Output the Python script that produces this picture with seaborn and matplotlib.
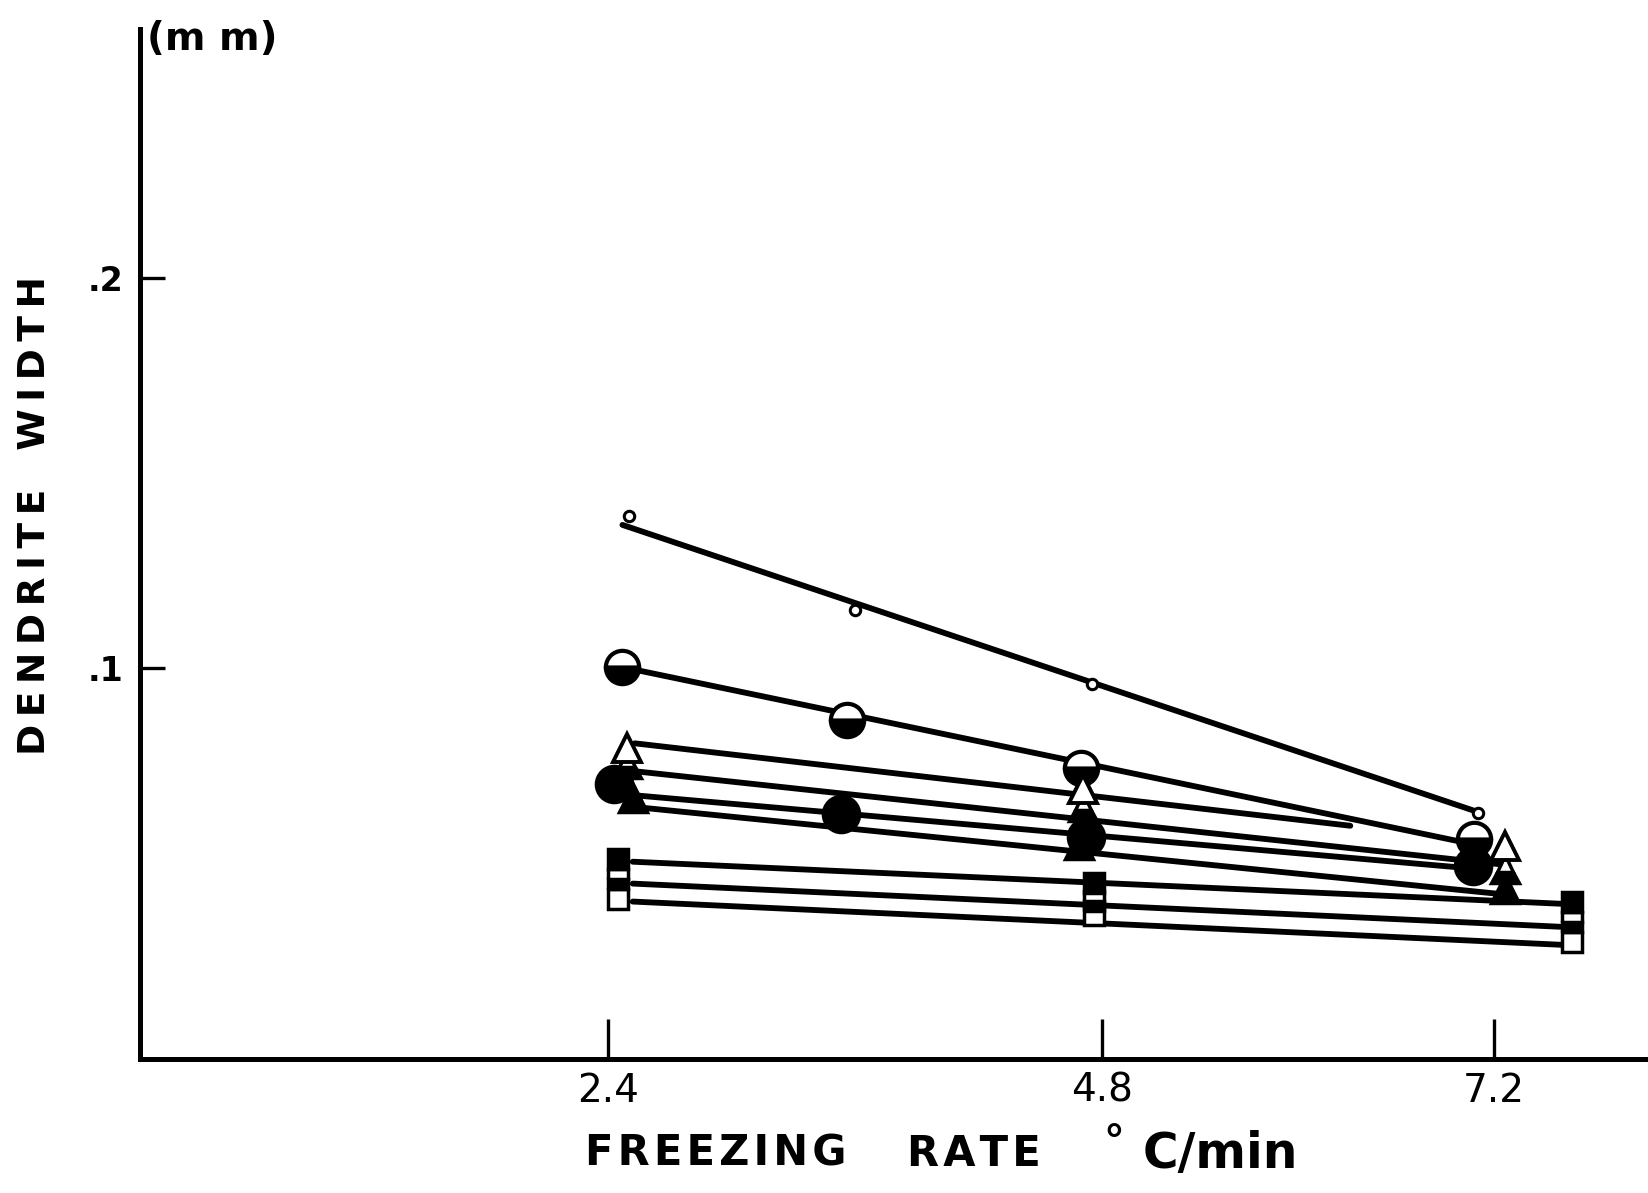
import numpy as np
import pandas as pd
import matplotlib
matplotlib.use("Agg")
import matplotlib.pyplot as plt
import seaborn as sns

# freezing rate (deg C/min) and dendrite width (mm)
# small open circles
a_x = [2.5, 3.6, 4.75, 7.1]
a_y = [0.139, 0.115, 0.096, 0.063]
a_fit_x = [2.47, 7.11]
a_fit_y = [0.1367, 0.0631]
# half filled circles
b_x = [2.47, 3.56, 4.70, 7.08]
b_y = [0.1003, 0.0867, 0.0744, 0.0564]
b_fit_x = [2.47, 7.08]
b_fit_y = [0.1003, 0.0549]
# filled circles
d_x = [2.43, 3.53, 4.72, 7.07]
d_y = [0.0705, 0.0628, 0.0567, 0.0495]
d_fit_x = [2.55, 7.0]
d_fit_y = [0.0674, 0.0490]
# open triangles
t1_x = [2.49, 4.71, 7.27]
t1_y = [0.0795, 0.0690, 0.0544]
t1_fit_x = [2.53, 6.32]
t1_fit_y = [0.0808, 0.0597]
# half filled triangles
t2_x = [2.49, 4.71, 7.27]
t2_y = [0.0754, 0.0646, 0.0487]
t2_fit_x = [2.54, 7.27]
t2_fit_y = [0.0736, 0.0497]
# filled triangles
t3_x = [2.52, 4.69, 7.27]
t3_y = [0.0667, 0.0549, 0.0436]
t3_fit_x = [2.55, 7.27]
t3_fit_y = [0.0644, 0.0421]
# squares: filled, half, open
sq_x = [2.45, 4.76, 7.68]
s1_y = [0.0513, 0.0451, 0.0403]
s2_y = [0.0462, 0.0405, 0.0351]
s3_y = [0.0410, 0.0369, 0.0300]
sq_fit_x = [2.52, 7.63]
s1_fit_y = [0.0505, 0.0397]
s2_fit_y = [0.0449, 0.0338]
s3_fit_y = [0.0403, 0.0292]

xticks = [2.4, 4.8, 7.2]
xticklabels = ["2.4", "4.8", "7.2"]
yticks = [0.1, 0.2]
yticklabels = [".1", ".2"]

sns.set_style("white")
plt.rcParams['font.family'] = ['DejaVu Sans']
plt.rcParams['text.color'] = 'black'
plt.rcParams['xtick.color'] = 'black'
plt.rcParams['ytick.color'] = 'black'

fig = plt.figure(figsize=(16.49, 11.93), dpi=100)
ax = fig.add_axes([0.0849, 0.1123, 0.9151, 0.8630])


# the hand drawn x axis is not evenly spaced (2.4-4.8 longer than 4.8-7.2)
def fwd(x):
    x = np.asarray(x, float)
    return np.where(x < 4.8, 608 + (x - 2.4) * 205.8, 1102 + (x - 4.8) * 163.3)


def inv(u):
    u = np.asarray(u, float)
    return np.where(u < 1102, 2.4 + (u - 608) / 205.8, 4.8 + (u - 1102) / 163.3)


ax.set_xscale('function', functions=(fwd, inv))

fits = pd.DataFrame({
    'x': a_fit_x + b_fit_x + d_fit_x + t1_fit_x + t2_fit_x + t3_fit_x + sq_fit_x * 3,
    'y': a_fit_y + b_fit_y + d_fit_y + t1_fit_y + t2_fit_y + t3_fit_y + s1_fit_y + s2_fit_y + s3_fit_y,
    'grp': sum([[g] * 2 for g in ['a', 'b', 'd', 't1', 't2', 't3', 's1', 's2', 's3']], []),
})
sns.lineplot(data=fits, x='x', y='y', units='grp', estimator=None, color='black',
             linewidth=4.2, ax=ax, zorder=2)

k = dict(linestyle='none', color='black', mec='black', zorder=3)
ax.plot(a_x, a_y, marker='o', ms=7.5, mew=2.2, mfc='white', **k)
ax.plot(d_x, d_y, marker='o', ms=27, mew=1.5, mfc='black', **k)
ax.plot(b_x, b_y, marker='o', ms=24, mew=3, fillstyle='bottom', mfc='black',
        markerfacecoloralt='white', **k)
ax.plot(t3_x, t3_y, marker='^', ms=20, mew=2.5, mfc='black', **k)
ax.plot(t2_x, t2_y, marker='^', ms=20, mew=2.5, fillstyle='bottom', mfc='black',
        markerfacecoloralt='white', **k)
ax.plot(t1_x, t1_y, marker='^', ms=20, mew=2.8, mfc='white', **k)
ax.plot(sq_x, s3_y, marker='s', ms=15, mew=2.5, mfc='white', **k)
ax.plot(sq_x, s2_y, marker='s', ms=15, mew=2.5, fillstyle='bottom', mfc='black',
        markerfacecoloralt='white', **k)
ax.plot(sq_x, s1_y, marker='s', ms=15, mew=2.5, mfc='black', **k)

ax.set_xlim(0.126, 8.149)
ax.set_ylim(0, 0.2635)
ax.set_xticks(xticks)
ax.set_xticklabels(xticklabels, fontsize=28)
ax.set_yticks(yticks)
ax.set_yticklabels(yticklabels, fontsize=24, fontweight='bold')
ax.tick_params(axis='x', bottom=True, direction='in', length=29, width=2.4, pad=9)
ax.tick_params(axis='y', left=True, direction='in', length=18, width=2.4, pad=12)
ax.set_xlabel('')
ax.set_ylabel('')

sns.despine(ax=ax)
for s in ['left', 'bottom']:
    ax.spines[s].set_linewidth(3.6)
    ax.spines[s].set_color('black')

hs = '\u200a'
sp = '\u2009'
fig.text(0.089, 0.967, '(m m)', ha='left', va='center', fontsize=28, fontweight='bold')
fig.text(0.0215, 0.568, sp.join('DENDRITE') + '   ' + sp.join('WIDTH'), rotation=90,
         ha='center', va='center', fontsize=27, fontweight='bold')
fig.text(0.355, 0.033, hs.join('FREEZING'), ha='left', va='center', fontsize=30, fontweight='bold')
fig.text(0.550, 0.033, hs.join('RATE'), ha='left', va='center', fontsize=30, fontweight='bold')
fig.text(0.669, 0.042, '\u00b0', ha='left', va='center', fontsize=30, fontweight='bold')
fig.text(0.693, 0.033, 'C/min', ha='left', va='center', fontsize=35, fontweight='bold')

fig.savefig('out.png', dpi=100)
